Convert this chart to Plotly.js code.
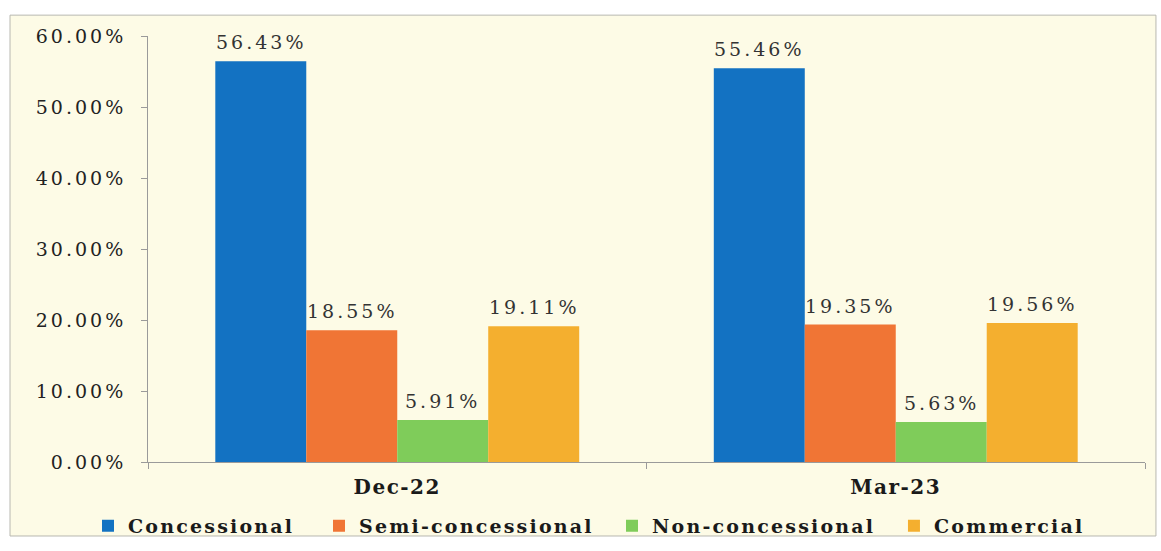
<!DOCTYPE html>
<html>
<head>
<meta charset="utf-8">
<script src="https://cdn.plot.ly/plotly-3.0.1.min.js"></script>
<style>
  html, body { margin: 0; padding: 0; background: #ffffff; }
  #chart { width: 1161px; height: 551px; }
  /* wide, airy serif lettering (global so text measurement sees it too) */
  .ytick text { letter-spacing: 3px; }
  .xtick text { letter-spacing: 1.5px; }
  .annotation-text { letter-spacing: 3px; }
  text.legendtext, text.legend2text, text.legend3text, text.legend4text { letter-spacing: 2.2px; }
</style>
</head>
<body>
<div id="chart"></div>
<script>
// Quarter-end periods on the category axis
const periods = ["Dec-22", "Mar-23"];

// Share of debt by terms, in percent
const seriesNames = ["Concessional", "Semi-concessional", "Non-concessional", "Commercial"];
const concessional = [56.43, 55.46];
const semiConcessional = [18.55, 19.35];
const nonConcessional = [5.91, 5.63];
const commercial = [19.11, 19.56];
const seriesValues = [concessional, semiConcessional, nonConcessional, commercial];
const seriesColors = ["#1372c2", "#f07535", "#7fcc5a", "#f4af2f"];

// Y axis ticks
const yTickValues = [0, 10, 20, 30, 40, 50, 60];
const yTickLabels = ["0.00%", "10.00%", "20.00%", "30.00%", "40.00%", "50.00%", "60.00%"];

const serif = "DejaVu Serif, Liberation Serif, serif";
const cream = "#fdfbe6";
const barGap = 0.27;

// Each series gets its own legend box so the key entries can be spaced freely
const legendIds = ["legend", "legend2", "legend3", "legend4"];
const legendX = [-0.0602, 0.1715, 0.4654, 0.7482];

const traces = seriesValues.map((vals, j) => ({
  type: "bar",
  name: seriesNames[j],
  x: periods,
  y: vals,
  legend: legendIds[j],
  marker: { color: seriesColors[j] },
  hoverinfo: "x+y+name"
}));

// Value labels above each bar, positioned from the bar's own value
const nSeries = seriesValues.length;
const slot = (1 - barGap) / nSeries;
const labels = [];
seriesValues.forEach((vals, j) => {
  vals.forEach((v, i) => {
    labels.push({
      x: i + (j - (nSeries - 1) / 2) * slot,
      y: v,
      xref: "x",
      yref: "y",
      text: v.toFixed(2) + "%",
      showarrow: false,
      yanchor: "bottom",
      yshift: 6,
      font: { family: serif, size: 19, color: "#333333" }
    });
  });
});

const legendStyle = (x) => ({
  orientation: "h",
  x: x,
  xanchor: "left",
  y: -0.150,
  yanchor: "middle",
  entrywidth: 270,
  entrywidthmode: "pixels",
  font: { family: serif, size: 19, color: "#1a1a1a", weight: "bold" },
  bgcolor: "rgba(0,0,0,0)",
  borderwidth: 0,
  itemclick: false
});

const layout = {
  width: 1161,
  height: 551,
  margin: { l: 148, r: 16, t: 36, b: 89, autoexpand: false },
  paper_bgcolor: "#ffffff",
  plot_bgcolor: "rgba(0,0,0,0)",
  barmode: "group",
  bargap: barGap,
  bargroupgap: 0,
  showlegend: true,
  xaxis: {
    type: "category",
    showline: true,
    linecolor: "#9a9a9a",
    linewidth: 1,
    ticks: "outside",
    tickson: "boundaries",
    ticklen: 6,
    tickcolor: "#9a9a9a",
    ticklabelstandoff: 7,
    tickfont: { family: serif, size: 20, color: "#1a1a1a", weight: "bold" },
    showgrid: false,
    zeroline: false
  },
  yaxis: {
    range: [0, 60],
    tickmode: "array",
    tickvals: yTickValues,
    ticktext: yTickLabels,
    showline: true,
    linecolor: "#9a9a9a",
    linewidth: 1,
    ticks: "outside",
    ticklen: 6,
    tickcolor: "#9a9a9a",
    ticklabelstandoff: 11,
    tickfont: { family: serif, size: 19, color: "#222222" },
    showgrid: false,
    zeroline: false
  },
  shapes: [{
    type: "rect",
    xref: "paper",
    yref: "paper",
    x0: -0.1384, x1: 1.011,
    y0: -0.1737, y1: 1.049,
    fillcolor: cream,
    line: { color: "#b8b8b0", width: 1 },
    layer: "below"
  }],
  annotations: labels
};
legendIds.forEach((id, j) => { layout[id] = legendStyle(legendX[j]); });

Plotly.newPlot("chart", traces, layout, { displayModeBar: false, staticPlot: true });
</script>
</body>
</html>
